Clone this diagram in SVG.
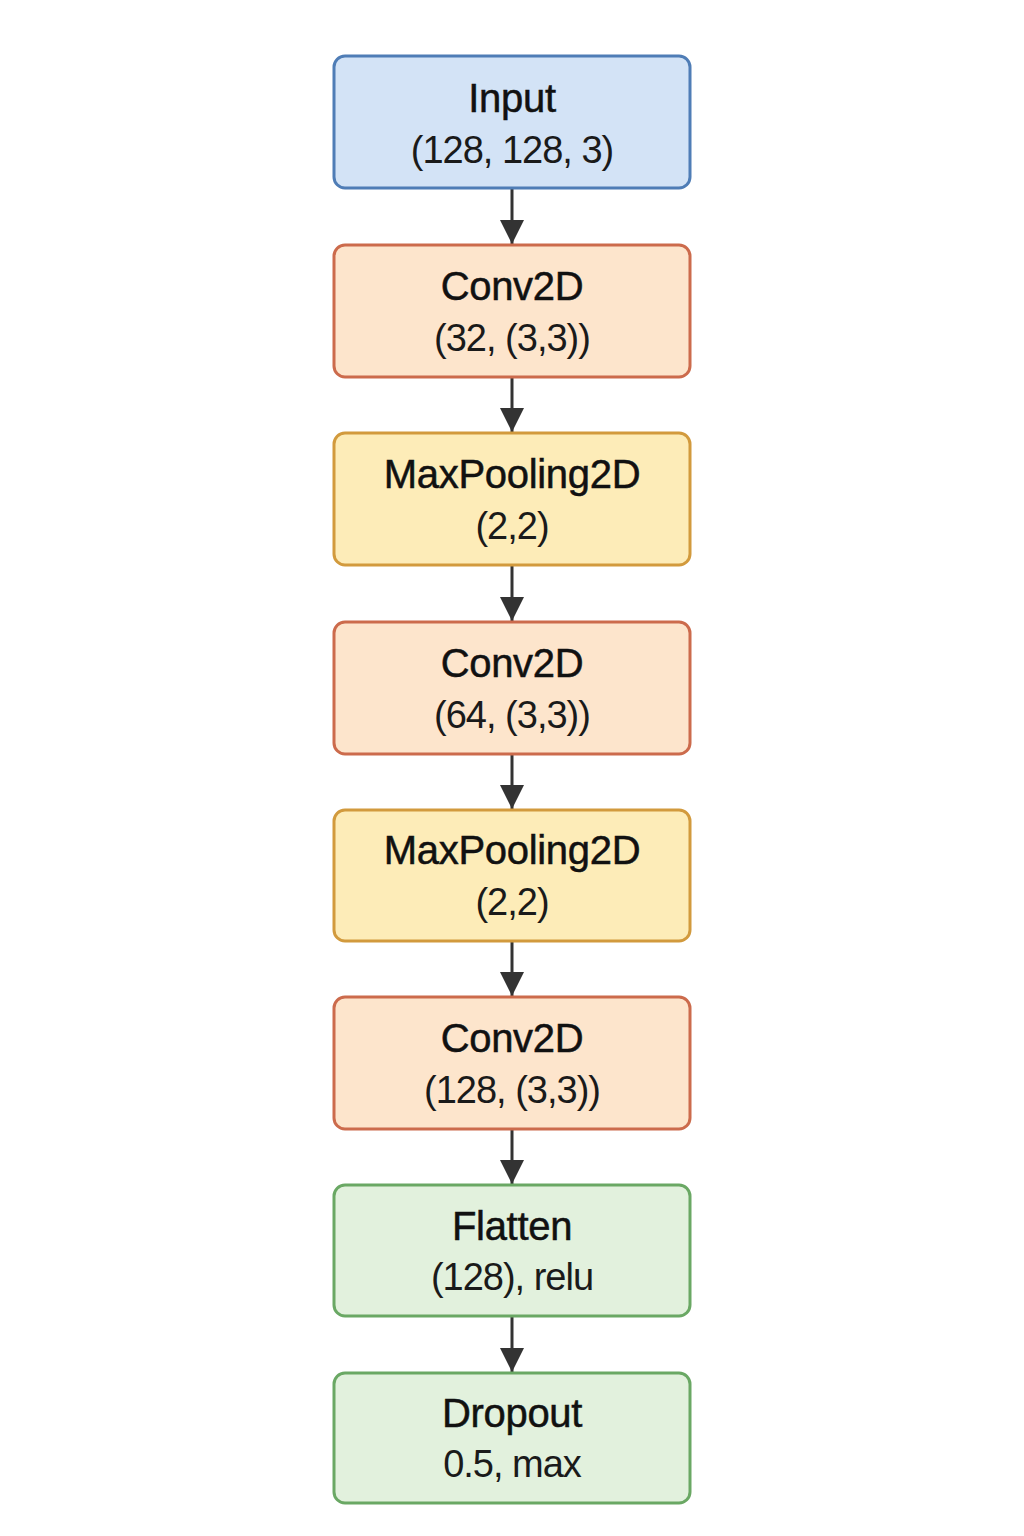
<svg xmlns="http://www.w3.org/2000/svg" width="1024" height="1536" viewBox="0 0 1024 1536">
<defs>
<marker id="ah" markerUnits="userSpaceOnUse" markerWidth="26" markerHeight="24" refX="24" refY="12" orient="auto">
<path d="M0,0 L24,12 L0,24 Z" fill="#333"/>
</marker>
<style>
.box{stroke-width:3}
.blue{fill:#d3e3f6;stroke:#4f7db6}
.orange{fill:#fde5cc;stroke:#cc6b4c}
.yellow{fill:#fdecb8;stroke:#d29a3d}
.green{fill:#e2f1dd;stroke:#6aa864}
.t1{font-family:"Liberation Sans",Arial,sans-serif;font-size:40px;fill:#111;text-anchor:middle;stroke:#111;stroke-width:0.5;letter-spacing:-0.3px}
.t2{font-family:"Liberation Sans",Arial,sans-serif;font-size:38px;fill:#1a1a1a;text-anchor:middle;letter-spacing:-1px}
.c{stroke:#333;stroke-width:3;fill:none;marker-end:url(#ah)}
</style>
</defs>
<rect width="1024" height="1536" fill="#fff"/>
<g id="connectors">
<line class="c" x1="512" y1="189" x2="512" y2="244"/>
<line class="c" x1="512" y1="378" x2="512" y2="432"/>
<line class="c" x1="512" y1="566" x2="512" y2="621"/>
<line class="c" x1="512" y1="755" x2="512" y2="809"/>
<line class="c" x1="512" y1="942" x2="512" y2="996"/>
<line class="c" x1="512" y1="1130" x2="512" y2="1184"/>
<line class="c" x1="512" y1="1317" x2="512" y2="1372"/>
</g>
<g id="input">
<rect class="box blue" x="334" y="56" width="356" height="132" rx="11"/>
<text class="t1" x="512" y="112">Input</text>
<text class="t2" x="512" y="163">(128, 128, 3)</text>
</g>
<g id="conv1">
<rect class="box orange" x="334" y="245" width="356" height="132" rx="11"/>
<text class="t1" x="512" y="300">Conv2D</text>
<text class="t2" x="512" y="351">(32, (3,3))</text>
</g>
<g id="pool1">
<rect class="box yellow" x="334" y="433" width="356" height="132" rx="11"/>
<text class="t1" x="512" y="488">MaxPooling2D</text>
<text class="t2" x="512" y="539">(2,2)</text>
</g>
<g id="conv2">
<rect class="box orange" x="334" y="622" width="356" height="132" rx="11"/>
<text class="t1" x="512" y="677">Conv2D</text>
<text class="t2" x="512" y="728">(64, (3,3))</text>
</g>
<g id="pool2">
<rect class="box yellow" x="334" y="810" width="356" height="131" rx="11"/>
<text class="t1" x="512" y="864">MaxPooling2D</text>
<text class="t2" x="512" y="915">(2,2)</text>
</g>
<g id="conv3">
<rect class="box orange" x="334" y="997" width="356" height="132" rx="11"/>
<text class="t1" x="512" y="1052">Conv2D</text>
<text class="t2" x="512" y="1103">(128, (3,3))</text>
</g>
<g id="flatten">
<rect class="box green" x="334" y="1185" width="356" height="131" rx="11"/>
<text class="t1" x="512" y="1240">Flatten</text>
<text class="t2" x="512" y="1290">(128), relu</text>
</g>
<g id="dropout">
<rect class="box green" x="334" y="1373" width="356" height="130" rx="11"/>
<text class="t1" x="512" y="1427">Dropout</text>
<text class="t2" x="512" y="1477">0.5, max</text>
</g>
</svg>
